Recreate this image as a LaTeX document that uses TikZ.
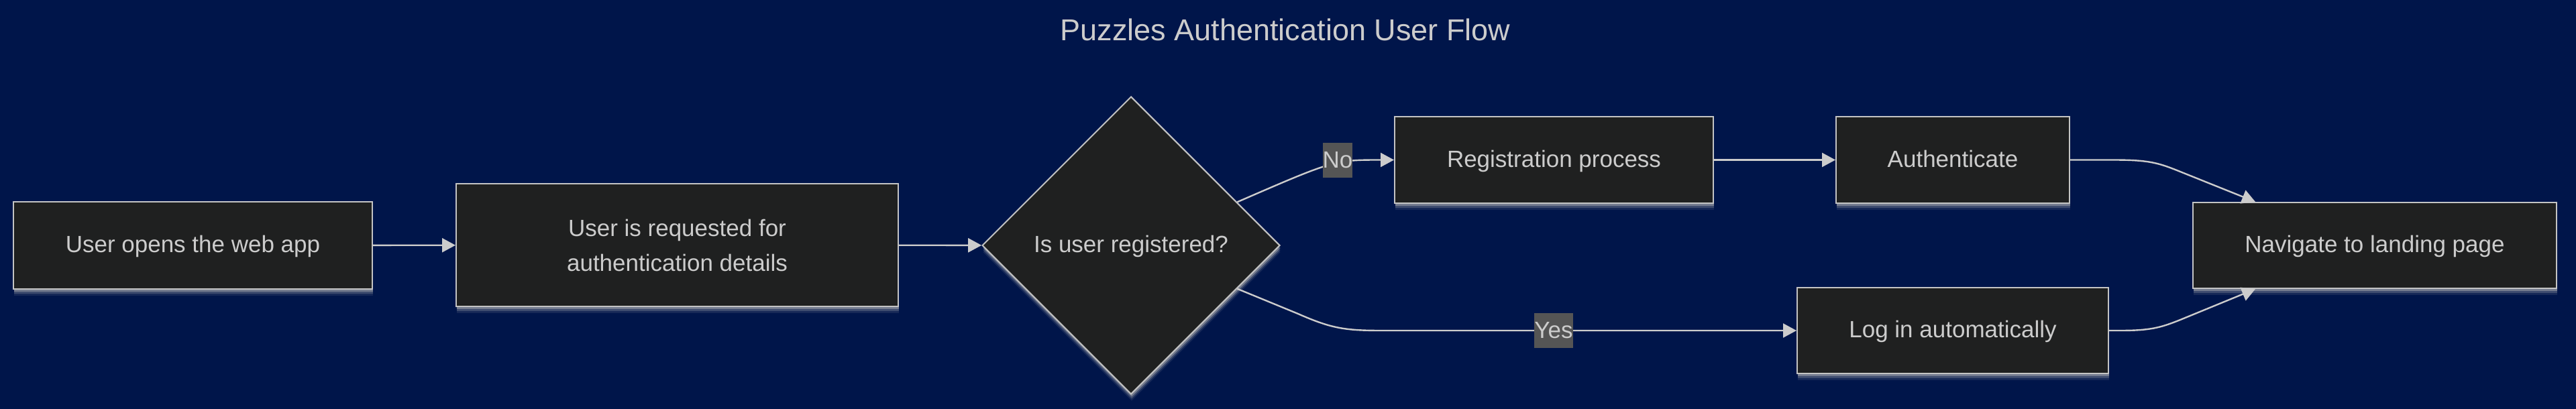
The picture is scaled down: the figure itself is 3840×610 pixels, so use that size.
\documentclass[tikz,border=0pt]{standalone}
\usepackage{fontspec}
\setmainfont{Liberation Sans}
\usetikzlibrary{shapes.geometric,arrows.meta,calc,shadows}
\definecolor{bgc}{HTML}{00154A}
\definecolor{boxfill}{HTML}{1F2020}
\definecolor{txtc}{HTML}{CCCCCC}
\definecolor{edgec}{HTML}{CCCCCC}
\definecolor{bordc}{HTML}{C4C4C4}
\definecolor{lblbg}{HTML}{555555}
\definecolor{shd}{HTML}{B8B8B8}
\begin{document}
\begin{tikzpicture}[x=1pt,y=-1pt,
  every node/.style={font=\fontsize{35}{52}\selectfont, text=txtc},
  glow/.style={
    drop shadow={shadow xshift=1pt, shadow yshift=-10pt, fill=shd, opacity=0.12},
    drop shadow={shadow xshift=1pt, shadow yshift=-7pt, fill=shd, opacity=0.25},
    drop shadow={shadow xshift=1pt, shadow yshift=-4pt, fill=shd, opacity=0.45}},
  procbox/.style={rectangle, draw=bordc, line width=2pt, fill=boxfill, inner sep=0pt, align=center, glow},
  oneline/.style={text height=26pt, text depth=5pt},
  decbox/.style={diamond, aspect=1, draw=bordc, line width=2pt, fill=boxfill,
    minimum width=444pt, minimum height=444pt, inner sep=0pt, glow, oneline},
  flow/.style={draw=edgec, line width=2.4pt, -{Triangle[length=20pt,width=21pt]}},
  edgelbl/.style={fill=lblbg, inner sep=0pt, minimum height=52pt, text=txtc}
]
\fill[bgc] (0,0) rectangle (3840,610);
\useasboundingbox (0,0) rectangle (3840,610);

\node[anchor=base, font=\fontsize{45}{54}\selectfont] (T) at (1916,61) {Puzzles Authentication User Flow};

\node[procbox, oneline, minimum width=535pt, minimum height=130pt] (A) at (287.5,366) {User opens the web app};
\node[procbox, minimum width=659pt, minimum height=183pt] (B) at (1009.5,365.5) {User is requested for\\authentication details};
\node[decbox] (Q) at (1686,366) {Is user registered?};
\node[procbox, oneline, minimum width=475pt, minimum height=129pt] (C) at (2316.5,238.5) {Registration process};
\node[procbox, oneline, minimum width=348pt, minimum height=129pt] (D) at (2911,238.5) {Authenticate};
\node[procbox, oneline, minimum width=464pt, minimum height=128pt] (F) at (2911,493) {Log in automatically};
\node[procbox, oneline, minimum width=542pt, minimum height=128pt] (E) at (3540,366) {Navigate to landing page};

\coordinate (qn) at ($(Q.north)!0.71!(Q.east)$);
\coordinate (qs) at ($(Q.south)!0.71!(Q.east)$);
\coordinate (Etop) at ($(E.north west)+(94,0)$);
\coordinate (Ebot) at ($(E.south west)+(94,0)$);

\draw[flow] (A) -- (B);
\draw[flow] (B) -- (Q);
\draw[flow] (qn) .. controls ($(C.west)+(-89,0)$) .. ($(C.west)+(-19,0)$) -- (C.west);
\draw[flow] (qs) -- (1935,468) .. controls (1985,490) and (2005,493) .. (2060,493) -- (F.west);
\draw[flow] (C) -- (D);
\draw[flow] (D.east) -- (3150,238.5) .. controls (3200,238.5) and (3215,242) .. (3245,254) -- (Etop);
\draw[flow] (F.east) -- (3160,493) .. controls (3205,493) and (3220,489) .. (3250,477) -- (Ebot);

\node[edgelbl] (lno) at (1994,238.5) {No};
\node[edgelbl] (lyes) at (2316,493) {Yes};
\end{tikzpicture}
\end{document}
